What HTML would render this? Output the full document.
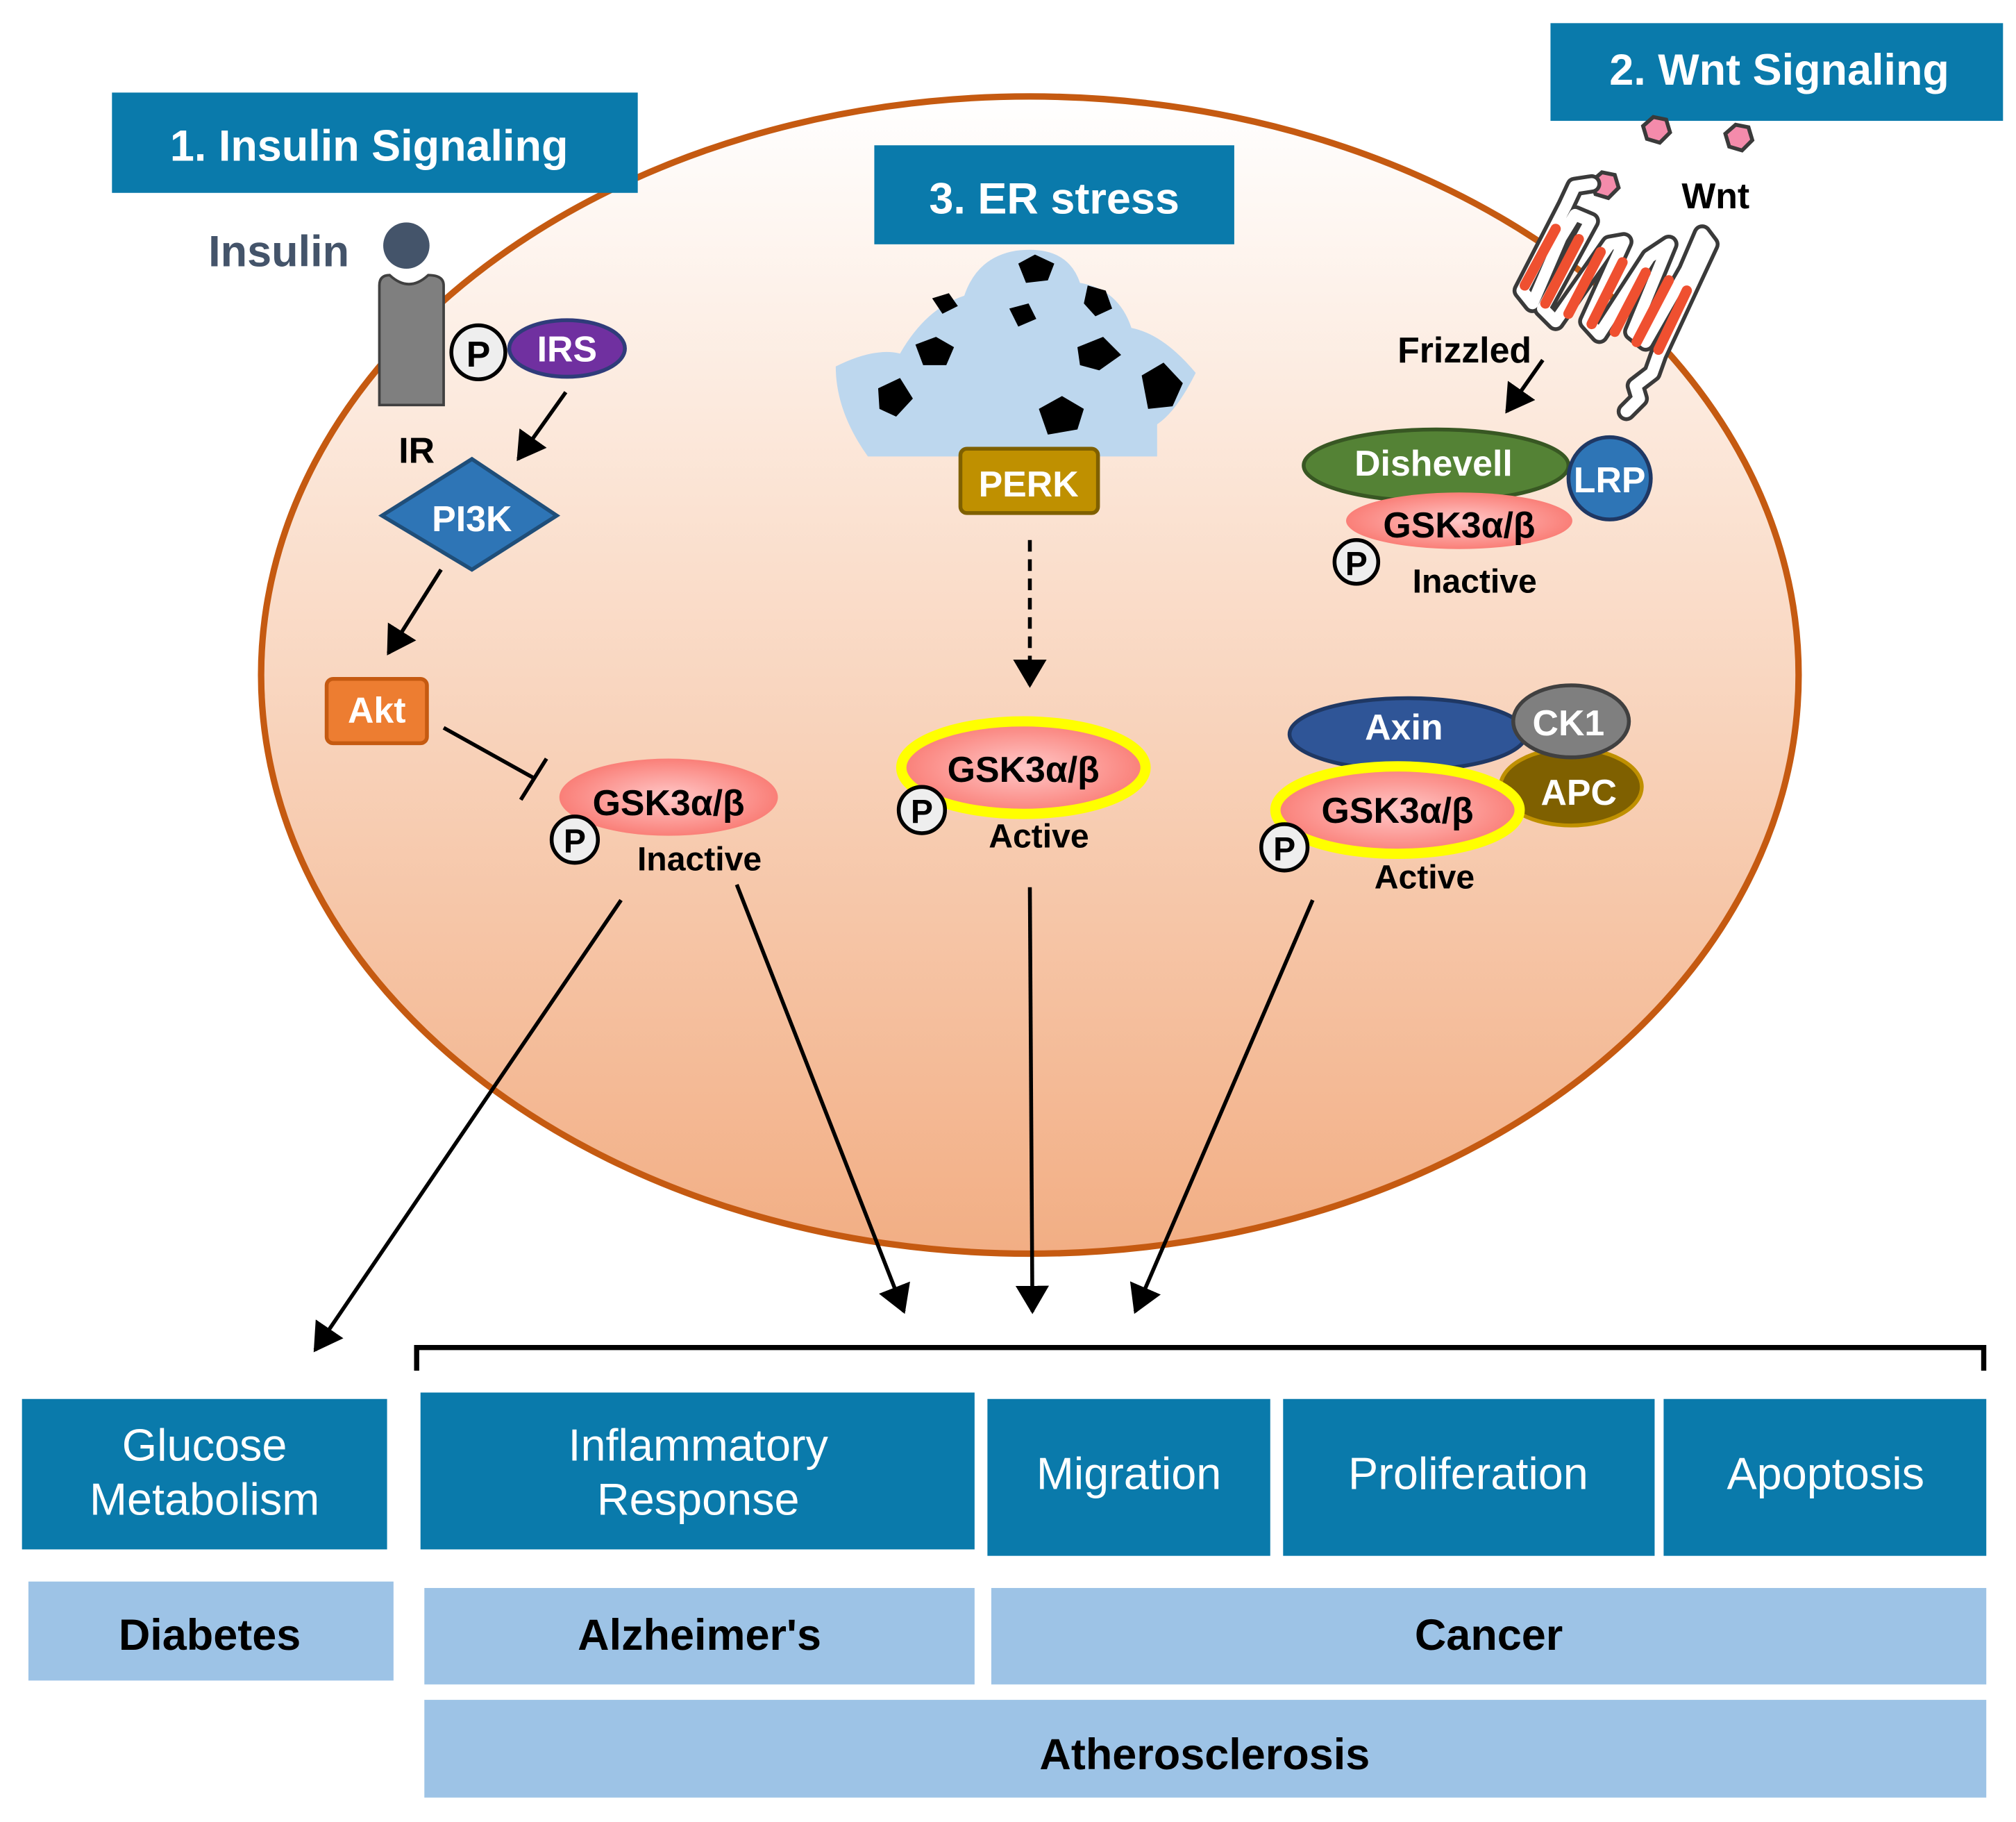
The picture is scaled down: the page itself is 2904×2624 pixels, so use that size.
<!DOCTYPE html>
<html><head><meta charset="utf-8"><style>
html,body{margin:0;padding:0;background:#fff}
svg{display:block}
text{font-family:"Liberation Sans",Arial,sans-serif}
</style></head><body>
<svg width="2904" height="2624" viewBox="0 0 1568 1417" xmlns="http://www.w3.org/2000/svg">
<defs>
<linearGradient id="cell" x1="0" y1="0" x2="0" y2="1">
<stop offset="0" stop-color="#ffffff"/><stop offset="0.35" stop-color="#fbe3d3"/><stop offset="1" stop-color="#f2ae84"/>
</linearGradient>
<radialGradient id="gsk"><stop offset="0" stop-color="#ffc8c8"/><stop offset="1" stop-color="#fa7f78"/></radialGradient>
<marker id="ar2" markerWidth="22" markerHeight="26" refX="20" refY="13" orient="auto" markerUnits="userSpaceOnUse" viewBox="0 0 22 26"><path d="M0,0 L22,13 L0,26 z" fill="#000"/></marker>
</defs>
<ellipse cx="801" cy="525" rx="598" ry="450" fill="url(#cell)" stroke="#c55a11" stroke-width="5"/>

<rect x="87" y="72" width="409" height="78" fill="#0a7aab"/>
<text x="287" y="125" font-size="34" font-weight="bold" fill="#fff" text-anchor="middle">1. Insulin Signaling</text>
<rect x="1206" y="18" width="352" height="76" fill="#0a7aab"/>
<text x="1384" y="66" font-size="34" font-weight="bold" fill="#fff" text-anchor="middle">2. Wnt Signaling</text>
<rect x="680" y="113" width="280" height="77" fill="#0a7aab"/>
<text x="820" y="166" font-size="34" font-weight="bold" fill="#fff" text-anchor="middle">3. ER stress</text>

<!-- insulin -->
<text x="162" y="207" font-size="34" font-weight="bold" fill="#44546a">Insulin</text>
<circle cx="316" cy="191" r="18" fill="#44546a"/>
<path d="M295,222 Q295,214 303,214 Q318,228 333,214 Q345,214 345,222 L345,315 L295,315 z" fill="#7f7f7f" stroke="#404040" stroke-width="2"/>
<text x="310" y="360" font-size="28" font-weight="bold">IR</text>
<circle cx="372" cy="274" r="21" fill="#eee" stroke="#000" stroke-width="3"/>
<text x="372" y="285" font-size="28" font-weight="bold" text-anchor="middle">P</text>
<ellipse cx="441" cy="271" rx="45" ry="22" fill="#7030a0" stroke="#2f3c7a" stroke-width="3"/>
<text x="441" y="281" font-size="28" font-weight="bold" fill="#fff" text-anchor="middle">IRS</text>
<line x1="440" y1="305" x2="403" y2="357" stroke="#000" stroke-width="3" marker-end="url(#ar2)"/>
<path d="M297,401 L367,357 L433,401 L367,443 z" fill="#2e75b6" stroke="#1f4e79" stroke-width="3"/>
<text x="367" y="413" font-size="28" font-weight="bold" fill="#fff" text-anchor="middle">PI3K</text>
<line x1="343" y1="443" x2="302" y2="508" stroke="#000" stroke-width="3" marker-end="url(#ar2)"/>
<rect x="254" y="528" width="78" height="50" rx="5" fill="#ed7d31" stroke="#c55a11" stroke-width="3"/>
<text x="293" y="562" font-size="28" font-weight="bold" fill="#fff" text-anchor="middle">Akt</text>
<line x1="345" y1="566" x2="415" y2="605" stroke="#000" stroke-width="3"/>
<line x1="405" y1="622" x2="425" y2="590" stroke="#000" stroke-width="3"/>
<ellipse cx="520" cy="620" rx="85" ry="30" fill="url(#gsk)"/>
<text x="520" y="634" font-size="28" font-weight="bold" text-anchor="middle">GSK3α/β</text>
<circle cx="447" cy="653" r="18" fill="#eee" stroke="#000" stroke-width="3"/>
<text x="447" y="663" font-size="26" font-weight="bold" text-anchor="middle">P</text>
<text x="544" y="677" font-size="26" font-weight="bold" text-anchor="middle">Inactive</text>

<!-- ER -->
<path d="M675,355 Q650,320 650,285 Q680,270 700,275 Q720,240 750,230 Q760,200 790,195 Q830,190 840,220 Q870,225 880,255 Q905,260 930,290 Q915,320 900,330 L900,355 z" fill="#bdd7ee"/>
<g fill="#000">
<path d="M792,205 L805,198 L820,205 L815,218 L798,220 z"/>
<path d="M725,232 L738,228 L745,238 L733,244 z"/>
<path d="M846,222 L860,226 L865,240 L852,246 L843,236 z"/>
<path d="M785,240 L800,236 L806,248 L792,254 z"/>
<path d="M712,268 L728,262 L742,270 L736,284 L718,284 z"/>
<path d="M838,270 L858,262 L872,276 L855,288 L840,284 z"/>
<path d="M683,302 L700,294 L710,310 L697,324 L684,318 z"/>
<path d="M888,292 L905,282 L920,298 L912,316 L893,318 z"/>
<path d="M808,318 L826,308 L843,318 L838,334 L815,338 z"/>
</g>
<rect x="747" y="349" width="107" height="50" rx="5" fill="#bf9000" stroke="#7f6000" stroke-width="3"/>
<text x="800" y="386" font-size="28" font-weight="bold" fill="#fff" text-anchor="middle">PERK</text>
<line x1="801" y1="420" x2="801" y2="533" stroke="#000" stroke-width="3" stroke-dasharray="9,6" marker-end="url(#ar2)"/>
<ellipse cx="796" cy="597" rx="95" ry="36" fill="url(#gsk)" stroke="#ffff00" stroke-width="8"/>
<text x="796" y="608" font-size="28" font-weight="bold" text-anchor="middle">GSK3α/β</text>
<circle cx="717" cy="630" r="18" fill="#eee" stroke="#000" stroke-width="3"/>
<text x="717" y="640" font-size="26" font-weight="bold" text-anchor="middle">P</text>
<text x="808" y="659" font-size="26" font-weight="bold" text-anchor="middle">Active</text>

<!-- Wnt -->
<g fill="#f48bab" stroke="#3a3a3a" stroke-width="3">
<polygon points="1278,98 1286,91 1296,93 1299,103 1291,111 1281,108"/>
<polygon points="1342,104 1350,97 1360,99 1363,109 1355,117 1345,114"/>
<polygon points="1238,141 1246,134 1256,136 1259,146 1251,154 1241,151"/>
</g>
<text x="1308" y="162" font-size="28" font-weight="bold">Wnt</text>
<g fill="none" stroke-linejoin="round" stroke-linecap="round">
<path d="M1238,143 L1225,145 L1218,160 L1184,226 L1192,236 L1214,185 L1225,167 L1237,172 L1200,240 L1210,250 L1252,190 L1263,188 L1235,250 L1244,260 L1283,200 L1298,190 L1270,258 L1280,266 L1312,210 L1318,196 L1324,182 L1330,190 L1290,276 L1285,290 L1272,300 L1275,310 L1265,320" stroke="#3a3a3a" stroke-width="15"/>
<path d="M1238,143 L1225,145 L1218,160 L1184,226 L1192,236 L1214,185 L1225,167 L1237,172 L1200,240 L1210,250 L1252,190 L1263,188 L1235,250 L1244,260 L1283,200 L1298,190 L1270,258 L1280,266 L1312,210 L1318,196 L1324,182 L1330,190 L1290,276 L1285,290 L1272,300 L1275,310 L1265,320" stroke="#fff" stroke-width="9"/>
</g>
<g stroke="#ef5030" stroke-width="8" stroke-linecap="round">
<path d="M1186,222 L1210,178 M1202,236 L1228,186 M1220,244 L1245,196 M1238,252 L1262,204 M1256,258 L1280,212 M1273,266 L1298,218 M1290,272 L1312,226"/>
</g>
<text x="1087" y="282" font-size="28" font-weight="bold">Frizzled</text>
<line x1="1200" y1="280" x2="1172" y2="320" stroke="#000" stroke-width="3" marker-end="url(#ar2)"/>
<ellipse cx="1117" cy="362" rx="103" ry="28" fill="#548235" stroke="#385723" stroke-width="3"/>
<text x="1115" y="370" font-size="28" font-weight="bold" fill="#fff" text-anchor="middle">Dishevell</text>
<ellipse cx="1135" cy="405" rx="88" ry="22" fill="url(#gsk)"/>
<text x="1135" y="418" font-size="28" font-weight="bold" text-anchor="middle">GSK3α/β</text>
<circle cx="1252" cy="372" r="32" fill="#2e75b6" stroke="#1f3864" stroke-width="3"/>
<text x="1252" y="383" font-size="28" font-weight="bold" fill="#fff" text-anchor="middle">LRP</text>
<circle cx="1055" cy="437" r="17" fill="#eee" stroke="#000" stroke-width="3"/>
<text x="1055" y="447" font-size="26" font-weight="bold" text-anchor="middle">P</text>
<text x="1147" y="461" font-size="26" font-weight="bold" text-anchor="middle">Inactive</text>

<ellipse cx="1095" cy="571" rx="92" ry="28" fill="#2f5597" stroke="#1f3864" stroke-width="3"/>
<text x="1092" y="575" font-size="28" font-weight="bold" fill="#fff" text-anchor="middle">Axin</text>
<ellipse cx="1222" cy="612" rx="55" ry="30" fill="#7f6000" stroke="#bf9000" stroke-width="3"/>
<text x="1228" y="626" font-size="28" font-weight="bold" fill="#fff" text-anchor="middle">APC</text>
<ellipse cx="1222" cy="561" rx="45" ry="28" fill="#7f7f7f" stroke="#404040" stroke-width="3"/>
<text x="1220" y="572" font-size="28" font-weight="bold" fill="#fff" text-anchor="middle">CK1</text>
<ellipse cx="1087" cy="630" rx="95" ry="34" fill="url(#gsk)" stroke="#ffff00" stroke-width="8"/>
<text x="1087" y="640" font-size="28" font-weight="bold" text-anchor="middle">GSK3α/β</text>
<circle cx="999" cy="659" r="18" fill="#eee" stroke="#000" stroke-width="3"/>
<text x="999" y="669" font-size="26" font-weight="bold" text-anchor="middle">P</text>
<text x="1108" y="691" font-size="26" font-weight="bold" text-anchor="middle">Active</text>

<g stroke="#000" stroke-width="3">
<line x1="483" y1="700" x2="245" y2="1050" marker-end="url(#ar2)"/>
<line x1="573" y1="688" x2="703" y2="1020" marker-end="url(#ar2)"/>
<line x1="801" y1="690" x2="803" y2="1020" marker-end="url(#ar2)"/>
<line x1="1021" y1="700" x2="883" y2="1020" marker-end="url(#ar2)"/>
</g>
<path d="M324,1066 L324,1048 L1543,1048 L1543,1066" fill="none" stroke="#000" stroke-width="4"/>

<g fill="#0a7aab">
<rect x="17" y="1088" width="284" height="117"/>
<rect x="327" y="1083" width="431" height="122"/>
<rect x="768" y="1088" width="220" height="122"/>
<rect x="998" y="1088" width="289" height="122"/>
<rect x="1294" y="1088" width="251" height="122"/>
</g>
<g fill="#fff" font-size="35" text-anchor="middle">
<text x="159" y="1136">Glucose</text><text x="159" y="1178">Metabolism</text>
<text x="543" y="1136">Inflammatory</text><text x="543" y="1178">Response</text>
<text x="878" y="1158">Migration</text>
<text x="1142" y="1158">Proliferation</text>
<text x="1420" y="1158">Apoptosis</text>
</g>
<g fill="#9dc3e6">
<rect x="22" y="1230" width="284" height="77"/>
<rect x="330" y="1235" width="428" height="75"/>
<rect x="771" y="1235" width="774" height="75"/>
<rect x="330" y="1322" width="1215" height="76"/>
</g>
<g font-size="34" font-weight="bold" text-anchor="middle">
<text x="163" y="1283">Diabetes</text>
<text x="544" y="1283">Alzheimer's</text>
<text x="1158" y="1283">Cancer</text>
<text x="937" y="1376">Atherosclerosis</text>
</g>
</svg>
</body></html>
